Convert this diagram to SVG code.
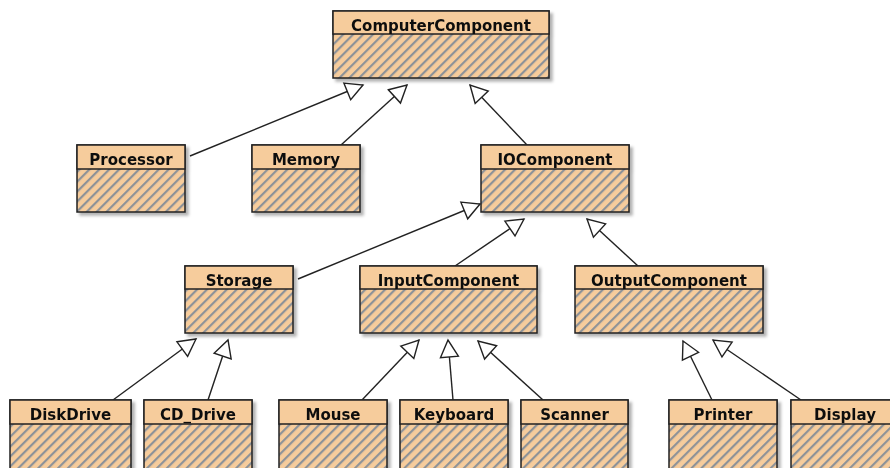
<svg xmlns="http://www.w3.org/2000/svg" width="890" height="468" viewBox="0 0 890 468">
  <defs>
    <pattern id="hatch" width="7" height="7" patternUnits="userSpaceOnUse" patternTransform="rotate(45)">
      <rect width="7" height="7" fill="#f6cc9c"/>
      <line x1="1" y1="0" x2="1" y2="7" stroke="#8d9298" stroke-width="2.4"/>
    </pattern>
    <filter id="shadow" x="-10%" y="-10%" width="130%" height="140%">
      <feDropShadow dx="3" dy="3" stdDeviation="1.8" flood-color="#000" flood-opacity="0.3"/>
    </filter>
    <marker id="inherit" viewBox="0 0 20 20" refX="18" refY="10" markerWidth="20" markerHeight="20" markerUnits="userSpaceOnUse" orient="auto" overflow="visible">
      <path d="M1,1 L18,10 L1,19 Z" fill="#fff" stroke="#222" stroke-width="1.4" stroke-linejoin="miter"/>
    </marker>
  </defs>
  <style>
    .body { fill: url(#hatch); stroke: #222; stroke-width: 1.5; }
    .head { fill: #f6cc9c; stroke: #222; stroke-width: 1.5; }
    .cls { filter: url(#shadow); }
    .name { font-family: "DejaVu Sans", "Liberation Sans", sans-serif; font-weight: bold; font-size: 15px; fill: #111; text-anchor: middle; }
    .gen { stroke: #222; stroke-width: 1.4; fill: none; marker-end: url(#inherit); }
  </style>
  <rect width="890" height="468" fill="#fff"/>

  <!-- generalization connectors -->
  <g id="connectors">
    <line class="gen" x1="190" y1="156" x2="363" y2="85"/>
    <line class="gen" x1="341" y1="145" x2="407" y2="85"/>
    <line class="gen" x1="527" y1="145" x2="470" y2="85"/>
    <line class="gen" x1="298" y1="279" x2="480" y2="204"/>
    <line class="gen" x1="455" y1="266" x2="524" y2="219"/>
    <line class="gen" x1="638" y1="266" x2="587" y2="219"/>
    <line class="gen" x1="113" y1="400" x2="196" y2="339"/>
    <line class="gen" x1="208" y1="400" x2="228" y2="340"/>
    <line class="gen" x1="362" y1="400" x2="419" y2="340"/>
    <line class="gen" x1="453" y1="400" x2="448" y2="340"/>
    <line class="gen" x1="543" y1="400" x2="478" y2="341"/>
    <line class="gen" x1="712" y1="400" x2="683" y2="341"/>
    <line class="gen" x1="801" y1="400" x2="713" y2="340"/>
  </g>

  <!-- classes -->
  <g id="ComputerComponent" class="cls">
    <rect class="body" x="333" y="11" width="216" height="67"/>
    <rect class="head" x="333" y="11" width="216" height="23"/>
    <text class="name" x="441" y="31">ComputerComponent</text>
  </g>
  <g id="Processor" class="cls">
    <rect class="body" x="77" y="145" width="108" height="67"/>
    <rect class="head" x="77" y="145" width="108" height="24"/>
    <text class="name" x="131" y="165">Processor</text>
  </g>
  <g id="Memory" class="cls">
    <rect class="body" x="252" y="145" width="108" height="67"/>
    <rect class="head" x="252" y="145" width="108" height="24"/>
    <text class="name" x="306" y="165">Memory</text>
  </g>
  <g id="IOComponent" class="cls">
    <rect class="body" x="481" y="145" width="148" height="67"/>
    <rect class="head" x="481" y="145" width="148" height="24"/>
    <text class="name" x="555" y="165">IOComponent</text>
  </g>
  <g id="Storage" class="cls">
    <rect class="body" x="185" y="266" width="108" height="67"/>
    <rect class="head" x="185" y="266" width="108" height="23"/>
    <text class="name" x="239" y="286">Storage</text>
  </g>
  <g id="InputComponent" class="cls">
    <rect class="body" x="360" y="266" width="177" height="67"/>
    <rect class="head" x="360" y="266" width="177" height="23"/>
    <text class="name" x="448.5" y="286">InputComponent</text>
  </g>
  <g id="OutputComponent" class="cls">
    <rect class="body" x="575" y="266" width="188" height="67"/>
    <rect class="head" x="575" y="266" width="188" height="23"/>
    <text class="name" x="669" y="286">OutputComponent</text>
  </g>
  <g id="DiskDrive" class="cls">
    <rect class="body" x="10" y="400" width="121" height="80"/>
    <rect class="head" x="10" y="400" width="121" height="24"/>
    <text class="name" x="70.5" y="420">DiskDrive</text>
  </g>
  <g id="CD_Drive" class="cls">
    <rect class="body" x="144" y="400" width="108" height="80"/>
    <rect class="head" x="144" y="400" width="108" height="24"/>
    <text class="name" x="198" y="420">CD_Drive</text>
  </g>
  <g id="Mouse" class="cls">
    <rect class="body" x="279" y="400" width="108" height="80"/>
    <rect class="head" x="279" y="400" width="108" height="24"/>
    <text class="name" x="333" y="420">Mouse</text>
  </g>
  <g id="Keyboard" class="cls">
    <rect class="body" x="400" y="400" width="108" height="80"/>
    <rect class="head" x="400" y="400" width="108" height="24"/>
    <text class="name" x="454" y="420">Keyboard</text>
  </g>
  <g id="Scanner" class="cls">
    <rect class="body" x="521" y="400" width="107" height="80"/>
    <rect class="head" x="521" y="400" width="107" height="24"/>
    <text class="name" x="574.5" y="420">Scanner</text>
  </g>
  <g id="Printer" class="cls">
    <rect class="body" x="669" y="400" width="108" height="80"/>
    <rect class="head" x="669" y="400" width="108" height="24"/>
    <text class="name" x="723" y="420">Printer</text>
  </g>
  <g id="Display" class="cls">
    <rect class="body" x="791" y="400" width="108" height="80"/>
    <rect class="head" x="791" y="400" width="108" height="24"/>
    <text class="name" x="845" y="420">Display</text>
  </g>
</svg>
